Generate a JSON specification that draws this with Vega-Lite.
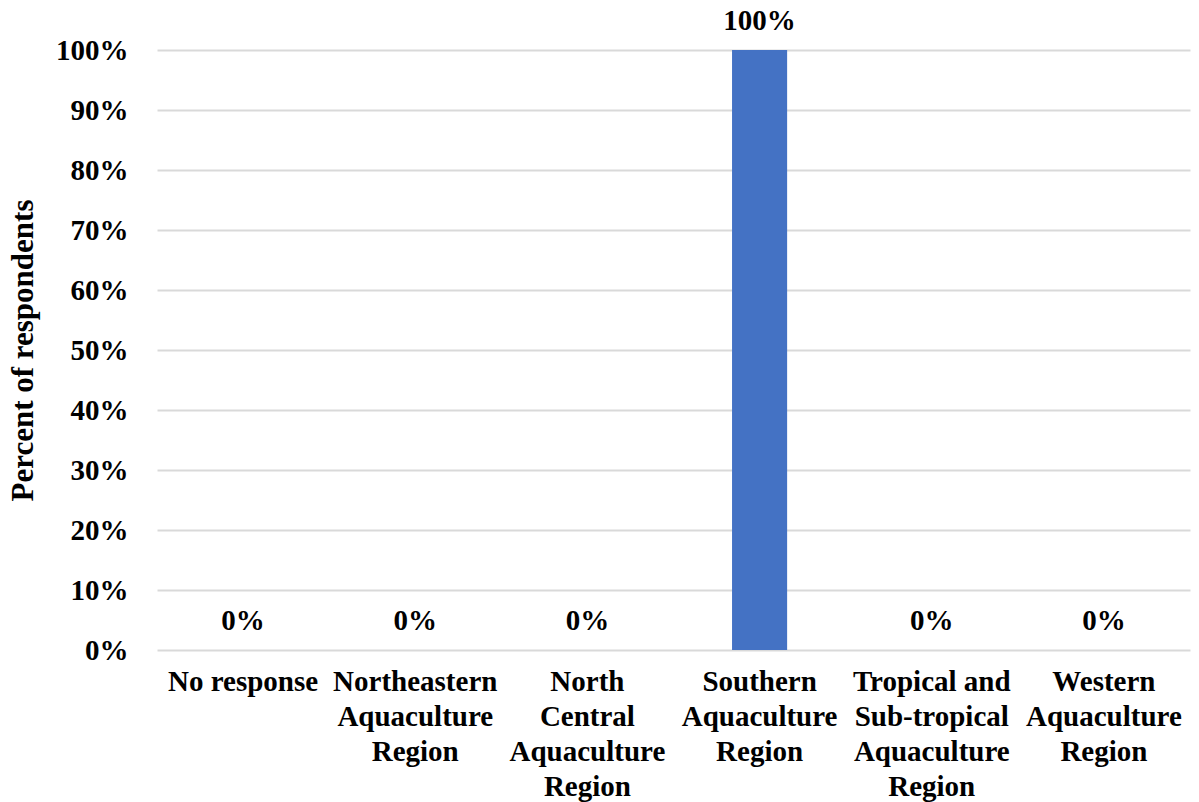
{
  "$schema": "https://vega.github.io/schema/vega-lite/v6.json",
  "width": 1033,
  "height": 600,
  "autosize": {"type": "none"},
  "padding": {"left": 157, "top": 50, "right": 9, "bottom": 152},
  "background": "white",
  "config": {"view": {"stroke": null}, "font": "Liberation Serif"},
  "data": {"values": [
    {"region": "No response", "pct": 0},
    {"region": "Northeastern Aquaculture Region", "pct": 0},
    {"region": "North Central Aquaculture Region", "pct": 0},
    {"region": "Southern Aquaculture Region", "pct": 1},
    {"region": "Tropical and Sub-tropical Aquaculture Region", "pct": 0},
    {"region": "Western Aquaculture Region", "pct": 0}
  ]},
  "encoding": {
    "x": {
      "field": "region", "type": "nominal", "sort": null,
      "scale": {"paddingInner": 0.68, "paddingOuter": 0.34},
      "axis": {
        "title": null, "labelAngle": 0, "domain": false, "ticks": false,
        "labelFont": "Liberation Serif", "labelFontWeight": "bold", "labelFontSize": 29,
        "labelColor": "black", "labelPadding": 17, "labelBaseline": "top", "labelLineHeight": 35,
        "labelLimit": 300, "labelOverlap": false,
        "labelExpr": "datum.value == 'No response' ? 'No response' : datum.value == 'Northeastern Aquaculture Region' ? ['Northeastern','Aquaculture','Region'] : datum.value == 'North Central Aquaculture Region' ? ['North','Central','Aquaculture','Region'] : datum.value == 'Southern Aquaculture Region' ? ['Southern','Aquaculture','Region'] : datum.value == 'Tropical and Sub-tropical Aquaculture Region' ? ['Tropical and','Sub-tropical','Aquaculture','Region'] : ['Western','Aquaculture','Region']"
      }
    },
    "y": {
      "field": "pct", "type": "quantitative",
      "scale": {"domain": [0, 1]},
      "axis": {
        "title": "Percent of respondents", "format": ".0%", "values": [0,0.1,0.2,0.3,0.4,0.5,0.6,0.7,0.8,0.9,1],
        "domain": false, "ticks": false, "labelOverlap": false,
        "grid": true, "gridColor": "#d9d9d9", "gridWidth": 2,
        "labelFont": "Liberation Serif", "labelFontWeight": "bold", "labelFontSize": 29,
        "labelColor": "black", "labelPadding": 29,
        "titleFont": "Liberation Serif", "titleFontWeight": "bold", "titleFontSize": 31,
        "titleColor": "black", "titlePadding": 16
      }
    }
  },
  "layer": [
    {"mark": {"type": "bar", "color": "#4472C4"}},
    {"mark": {"type": "text", "font": "Liberation Serif", "fontWeight": "bold", "fontSize": 29, "color": "black", "baseline": "middle", "dy": -29},
     "encoding": {"text": {"field": "pct", "type": "quantitative", "format": ".0%"}}}
  ]
}
